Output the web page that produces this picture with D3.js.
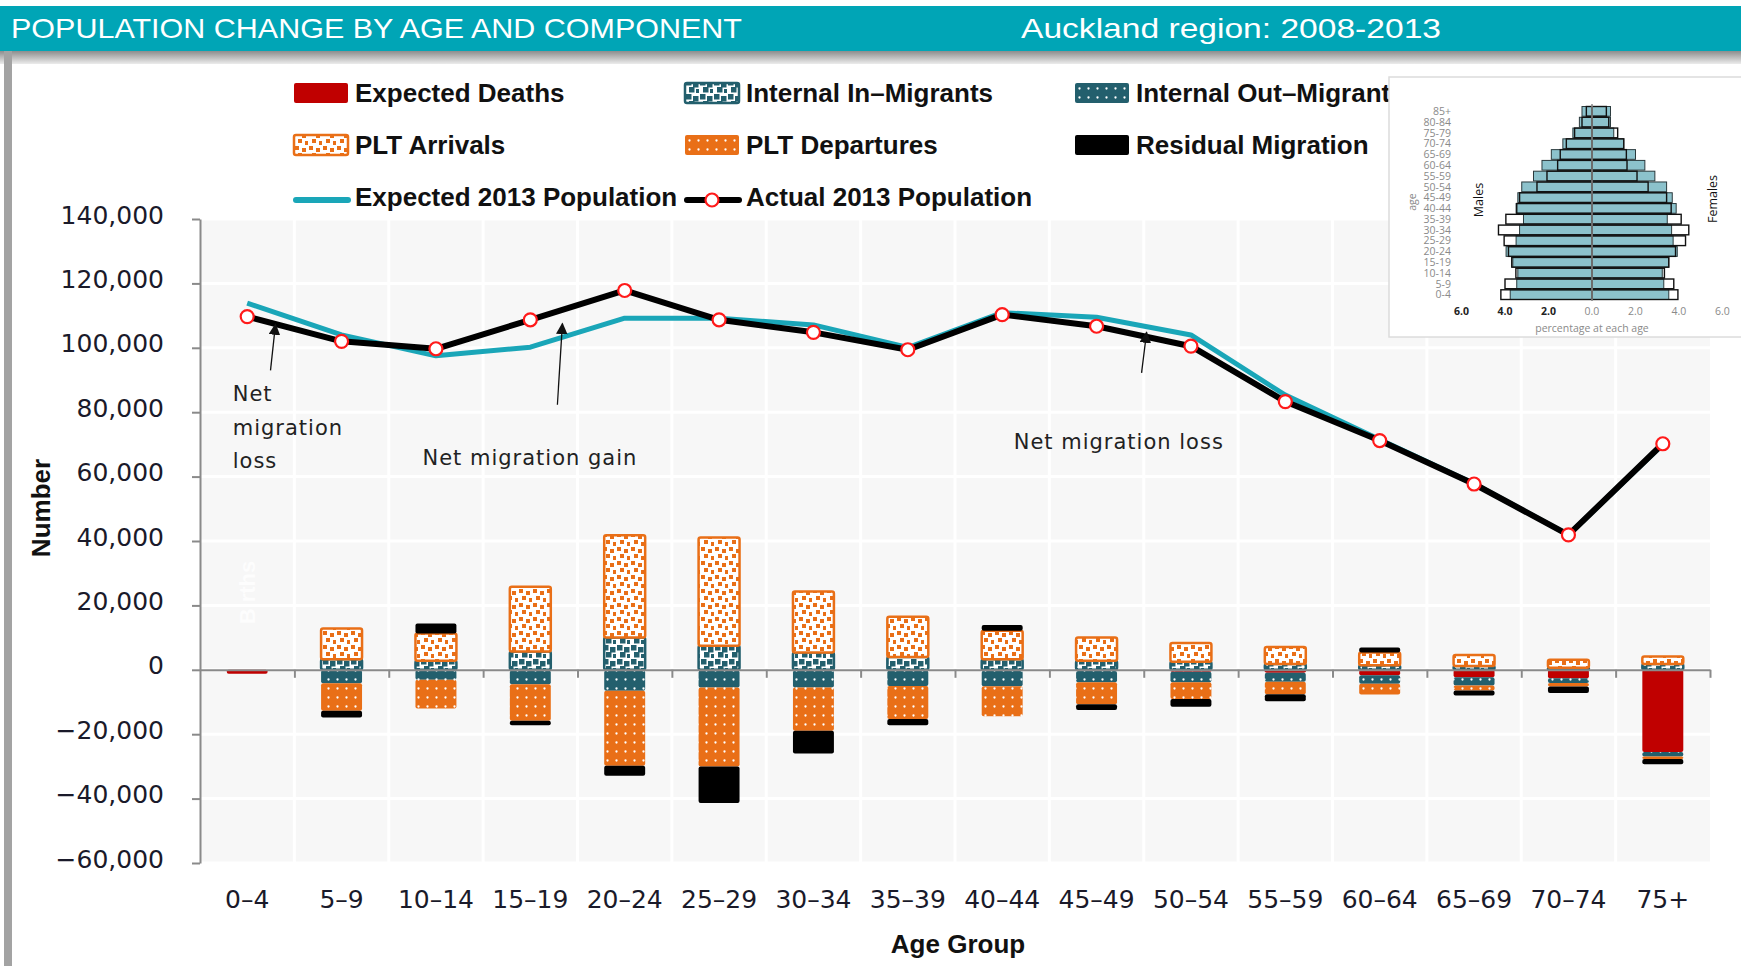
<!DOCTYPE html>
<html lang="en">
<head>
<meta charset="UTF-8">
<title>Population change by age and component</title>
<script src="https://d3js.org/d3.v7.min.js"></script>
<style>
  html, body { margin: 0; padding: 0; background: #fff; }
  svg { display: block; }
  .axis text { font-family: "DejaVu Sans", Verdana, sans-serif; font-size: 25px; fill: #1a1a2a; }
  .axis path, .axis line { stroke: #8a8a8a; stroke-width: 2px; }
  .legend text { font-family: "Liberation Sans", Arial, sans-serif; font-weight: bold; font-size: 26px; fill: #111; }
  .note { font-family: "DejaVu Sans", Verdana, sans-serif; font-size: 21px; letter-spacing: 1px; fill: #222; }
  .inset text { font-family: "Open Sans", "Liberation Sans", sans-serif; font-size: 10.5px; fill: #8a8a8a; }
</style>
</head>
<body>
<svg id="chart" width="1741" height="966"></svg>
<script>
// ---- data ----
const ageGroups = ["0–4","5–9","10–14","15–19","20–24","25–29","30–34","35–39",
                   "40–44","45–49","50–54","55–59","60–64","65–69","70–74","75+"];

const expectedDeaths = [-1200,-100,-100,-200,-200,-200,-200,-200,-300,-400,-600,-900,-1700,-2300,-2600,-25500];
const internalIn     = [0,3300,2800,5700,10000,7500,5400,4000,3300,2800,2500,1800,1400,1200,600,1800];
const internalOut    = [0,-4100,-3000,-4300,-6300,-5300,-5300,-4800,-4800,-3500,-3300,-2800,-2600,-2600,-1500,-1400];
const pltArrivals    = [0,9500,8500,20100,31800,33600,18900,12500,8800,7200,5800,5300,4000,3400,2500,2300];
const pltDepartures  = [0,-8500,-8900,-11300,-23300,-24500,-13400,-10300,-9300,-6800,-5200,-3900,-3400,-1500,-1100,-800];
const residual       = [0,-2100,3100,-1400,-3100,-11400,-7100,-1900,1800,-1800,-2400,-2200,1500,-1600,-2000,-1600];

const expectedPop = [113900,104000,97500,100200,109200,109200,107100,100100,110900,109500,104000,85300,71500,57800,41900,70000];
const actualPop   = [109700,102000,99700,108700,117800,108700,104800,99400,110300,106700,100500,83300,71200,57700,41900,70200];

const yTicks = [-60000,-40000,-20000,0,20000,40000,60000,80000,100000,120000,140000];

// inset pyramid (percentage at each age)
const pyrAges = ["0-4","5-9","10-14","15-19","20-24","25-29","30-34","35-39","40-44",
                 "45-49","50-54","55-59","60-64","65-69","70-74","75-79","80-84","85+"];
const malesFilled     = [3.76,3.46,3.41,3.64,3.95,3.49,3.33,3.15,3.49,3.41,3.23,2.69,2.30,1.87,1.34,0.88,0.58,0.46];
const malesOutline    = [4.19,4.00,3.50,3.69,3.84,4.04,4.30,3.96,3.46,3.33,2.53,2.07,1.58,1.46,1.18,0.80,0.46,0.26];
const femalesFilled   = [3.53,3.30,3.23,3.53,3.92,3.73,3.66,3.46,3.87,3.69,3.43,2.89,2.43,2.00,1.46,1.00,0.85,0.85];
const femalesOutline  = [3.95,3.76,3.33,3.53,3.84,4.30,4.45,4.10,3.64,3.43,2.58,2.07,1.61,1.58,1.46,1.18,0.77,0.66];
const pyrTicks = [-6,-4,-2,0,2,4,6];

// ---- colours ----
const C = {
  banner: "#00a5b6", red: "#c00000", orange: "#e96f17", teal: "#235f6d",
  lineTeal: "#1aa6b8", black: "#000", plotBg: "#f7f7f7"
};

const svg = d3.select("#chart");
const W = 1741, H = 966;

// ---- patterns ----
const defs = svg.append("defs");
// white ground with scattered coloured squares (Excel "large confetti" look)
function confetti(id, color, size) {
  const p = defs.append("pattern").attr("id", id)
    .attr("patternUnits", "userSpaceOnUse").attr("width", 14).attr("height", 14);
  p.append("rect").attr("width", 14).attr("height", 14).attr("fill", "#fff");
  [[1,1],[8,3],[4,8],[11,10]].forEach(([a, b]) =>
    p.append("rect").attr("x", a).attr("y", b).attr("width", size).attr("height", size).attr("fill", color));
}
function dots(id, color) {
  const p = defs.append("pattern").attr("id", id)
    .attr("patternUnits", "userSpaceOnUse").attr("width", 9).attr("height", 9);
  p.append("rect").attr("width", 9).attr("height", 9).attr("fill", color);
  p.append("circle").attr("cx", 4.5).attr("cy", 4.5).attr("r", 1.15).attr("fill", "#fff");
}
confetti("pInternalIn", C.teal, 5.5);
confetti("pArrivals", C.orange, 4);
dots("pInternalOut", C.teal);
dots("pDepartures", C.orange);

const grad = defs.append("linearGradient").attr("id", "frameGrad")
  .attr("x1", 0).attr("y1", 0).attr("x2", 0).attr("y2", 1);
grad.append("stop").attr("offset", "0%").attr("stop-color", "#8d8d8d");
grad.append("stop").attr("offset", "100%").attr("stop-color", "#ececec");

defs.append("marker").attr("id", "arrowHead")
  .attr("viewBox", "0 0 10 10").attr("refX", 9).attr("refY", 5)
  .attr("markerWidth", 9).attr("markerHeight", 9).attr("orient", "auto")
  .append("path").attr("d", "M0,0 L10,5 L0,10 z").attr("fill", "#111");

// ---- frame and banner ----
svg.append("rect").attr("width", W).attr("height", H).attr("fill", "#fff");
svg.append("rect").attr("x", 0).attr("y", 6).attr("width", W).attr("height", 45).attr("fill", C.banner);
svg.append("rect").attr("x", 0).attr("y", 51).attr("width", W).attr("height", 13).attr("fill", "url(#frameGrad)");
svg.append("rect").attr("x", 4).attr("y", 51).attr("width", 8).attr("height", H - 51).attr("fill", "#a3a3a3");

svg.append("text").attr("x", 11).attr("y", 38)
  .attr("textLength", 731).attr("lengthAdjust", "spacingAndGlyphs")
  .style("font-family", "'Liberation Sans', Arial, sans-serif").style("font-size", "28px").style("fill", "#fff")
  .text("POPULATION CHANGE BY AGE AND COMPONENT");
svg.append("text").attr("x", 1021).attr("y", 38)
  .attr("textLength", 420).attr("lengthAdjust", "spacingAndGlyphs")
  .style("font-family", "'Liberation Sans', Arial, sans-serif").style("font-size", "28px").style("fill", "#fff")
  .text("Auckland region: 2008-2013");

// ---- scales ----
const plot = { left: 200, right: 1710, top: 219, bottom: 863 };
const x = d3.scaleBand().domain(ageGroups).range([plot.left, plot.right]).paddingInner(0.566).paddingOuter(0.283);
const step = x.step();
const cx = d => x(d) + x.bandwidth() / 2;
const y = d3.scaleLinear().domain([-60000, 140000]).range([plot.bottom, plot.top]);

// plot background + white grid
svg.append("rect").attr("x", plot.left).attr("y", plot.top)
  .attr("width", plot.right - plot.left).attr("height", plot.bottom - plot.top).attr("fill", C.plotBg);
const grid = svg.append("g").attr("stroke", "#fff").attr("stroke-width", 3);
grid.selectAll("line.h").data(yTicks).join("line").attr("class", "h")
  .attr("x1", plot.left).attr("x2", plot.right).attr("y1", d => y(d)).attr("y2", d => y(d));
grid.selectAll("line.v").data(d3.range(1, ageGroups.length)).join("line").attr("class", "v")
  .attr("x1", i => plot.left + i * step).attr("x2", i => plot.left + i * step)
  .attr("y1", plot.top).attr("y2", plot.bottom);

// faint "Births" label in the 0-4 column
svg.append("text").attr("transform", `translate(${cx(ageGroups[0]) + 8},${y(24000)}) rotate(-90)`)
  .attr("text-anchor", "middle").attr("opacity", 0.75)
  .style("font-family", "'Liberation Sans', Arial, sans-serif").style("font-weight", "bold")
  .style("font-size", "22px").style("fill", "#fff").text("Births");

// ---- stacked components ----
const keys = ["deaths", "internalIn", "internalOut", "arrivals", "departures", "residual"];
const table = ageGroups.map((age, i) => ({
  age, deaths: expectedDeaths[i], internalIn: internalIn[i], internalOut: internalOut[i],
  arrivals: pltArrivals[i], departures: pltDepartures[i], residual: residual[i]
}));
const fills = {
  deaths: C.red, internalIn: "url(#pInternalIn)", internalOut: "url(#pInternalOut)",
  arrivals: "url(#pArrivals)", departures: "url(#pDepartures)", residual: C.black
};
const strokes = { internalIn: C.teal, arrivals: C.orange };

const stacked = d3.stack().keys(keys).offset(d3.stackOffsetDiverging)(table);
svg.append("g").selectAll("g").data(stacked).join("g")
  .attr("fill", s => fills[s.key])
  .attr("stroke", s => strokes[s.key] || "none")
  .attr("stroke-width", 2.5)
  .selectAll("rect").data(s => s.filter(d => d[1] !== d[0])).join("rect")
  .attr("x", d => x(d.data.age))
  .attr("width", x.bandwidth())
  .attr("y", d => y(Math.max(d[0], d[1])))
  .attr("height", d => Math.abs(y(d[0]) - y(d[1])))
  .attr("rx", 2);

// ---- axes ----
svg.append("g").attr("class", "axis").attr("transform", `translate(${plot.left},0)`)
  .call(d3.axisLeft(y).tickValues(yTicks).tickFormat(d3.format(",")).tickSize(8).tickSizeOuter(0).tickPadding(28))
  .call(g => g.selectAll(".tick text").attr("y", -4));

const bounds = d3.scaleLinear().domain([0, ageGroups.length]).range([plot.left, plot.right]);
svg.append("g").attr("class", "axis").attr("transform", `translate(0,${y(0)})`)
  .call(d3.axisBottom(bounds).tickValues(d3.range(1, ageGroups.length + 1)).tickFormat("").tickSize(8).tickSizeOuter(0));

svg.append("g").attr("class", "axis").attr("transform", `translate(0,${plot.bottom})`)
  .call(d3.axisBottom(x).tickSize(0).tickPadding(27))
  .call(g => g.select(".domain").remove());

svg.append("text").attr("transform", `translate(50,508) rotate(-90)`).attr("text-anchor", "middle")
  .style("font-family", "'Liberation Sans', Arial, sans-serif").style("font-weight", "bold")
  .style("font-size", "26px").style("fill", "#111").text("Number");
svg.append("text").attr("x", 958).attr("y", 953).attr("text-anchor", "middle")
  .style("font-family", "'Liberation Sans', Arial, sans-serif").style("font-weight", "bold")
  .style("font-size", "26px").style("fill", "#111").text("Age Group");

// ---- population lines ----
const line = d3.line().x((d, i) => cx(ageGroups[i])).y(d => y(d));
svg.append("path").datum(expectedPop).attr("d", line)
  .attr("fill", "none").attr("stroke", C.lineTeal).attr("stroke-width", 5).attr("stroke-linejoin", "round");
svg.append("path").datum(actualPop).attr("d", line)
  .attr("fill", "none").attr("stroke", C.black).attr("stroke-width", 6).attr("stroke-linejoin", "round");
svg.append("g").selectAll("circle").data(actualPop).join("circle")
  .attr("cx", (d, i) => cx(ageGroups[i])).attr("cy", d => y(d)).attr("r", 6.5)
  .attr("fill", "#fff").attr("stroke", "#ff1a1a").attr("stroke-width", 2.2);

// ---- annotations ----
const arrows = [
  { at: 0, frac: 0.3, from: 93000, to: 107300 },
  { at: 3, frac: 0.34, from: 82300, to: 107500 },
  { at: 9, frac: 0.53, from: 92200, to: 104800 }
];
svg.append("g").selectAll("line").data(arrows).join("line")
  .attr("x1", d => cx(ageGroups[d.at]) + d.frac * step - 5)
  .attr("y1", d => y(d.from))
  .attr("x2", d => cx(ageGroups[d.at]) + d.frac * step)
  .attr("y2", d => y(d.to))
  .attr("stroke", "#111").attr("stroke-width", 1.3).attr("marker-end", "url(#arrowHead)");

const notes = svg.append("g");
[["Net", 83500], ["migration", 73000], ["loss", 62700]].forEach(([t, v]) =>
  notes.append("text").attr("class", "note").attr("x", x(ageGroups[0]) + 6).attr("y", y(v)).text(t));
notes.append("text").attr("class", "note").attr("x", x(ageGroups[2]) + 7).attr("y", y(63500)).text("Net migration gain");
notes.append("text").attr("class", "note").attr("x", x(ageGroups[8]) + 32).attr("y", y(68600)).text("Net migration loss");

// ---- legend ----
const legendItems = [
  { label: "Expected Deaths", fill: C.red },
  { label: "Internal In–Migrants", fill: "url(#pInternalIn)", stroke: C.teal },
  { label: "Internal Out–Migrants", fill: "url(#pInternalOut)" },
  { label: "PLT Arrivals", fill: "url(#pArrivals)", stroke: C.orange },
  { label: "PLT Departures", fill: "url(#pDepartures)" },
  { label: "Residual Migration", fill: C.black },
  { label: "Expected 2013 Population", line: C.lineTeal },
  { label: "Actual 2013 Population", line: C.black, marker: true }
];
const legCols = [294, 685, 1075], legRows = [93, 145, 197];
const leg = svg.append("g").attr("class", "legend").selectAll("g").data(legendItems).join("g")
  .attr("transform", (d, i) => `translate(${legCols[i % 3]},${legRows[Math.floor(i / 3)]})`);
leg.filter(d => !d.line).append("rect")
  .attr("x", 0).attr("y", -10).attr("width", 54).attr("height", 20).attr("rx", 2)
  .attr("fill", d => d.fill).attr("stroke", d => d.stroke || "none").attr("stroke-width", 2.5);
leg.filter(d => d.line).append("line")
  .attr("x1", 2).attr("x2", 54).attr("y1", 3).attr("y2", 3)
  .attr("stroke", d => d.line).attr("stroke-width", 6).attr("stroke-linecap", "round");
leg.filter(d => d.marker).append("circle")
  .attr("cx", 27).attr("cy", 3).attr("r", 6.5).attr("fill", "#fff").attr("stroke", "#ff1a1a").attr("stroke-width", 2.2);
leg.append("text").attr("x", 61).attr("y", 9).text(d => d.label);

// ---- inset population pyramid ----
const inset = svg.append("g").attr("class", "inset");
inset.append("rect").attr("x", 1389).attr("y", 77).attr("width", 370).attr("height", 260)
  .attr("fill", "#fff").attr("stroke", "#dcdcdc").attr("stroke-width", 1.5);

const mid = 1592;
const px = d3.scaleLinear().domain([0, 6]).range([0, 130.5]);
const py = d3.scaleBand().domain(pyrAges).range([299.5, 106.5]).paddingInner(0.1);

function pyrBars(values, side, filled) {
  inset.append("g").selectAll("rect").data(values).join("rect")
    .attr("x", v => side < 0 ? mid - px(v) : mid)
    .attr("y", (v, i) => py(pyrAges[i]))
    .attr("width", v => px(v))
    .attr("height", py.bandwidth())
    .attr("fill", filled ? "#8cc2cc" : "none")
    .attr("stroke", filled ? "#2b3a3d" : "#111")
    .attr("stroke-width", filled ? 1 : 1.4);
}
pyrBars(malesFilled, -1, true);
pyrBars(femalesFilled, 1, true);
pyrBars(malesOutline, -1, false);
pyrBars(femalesOutline, 1, false);

inset.append("line").attr("x1", mid).attr("x2", mid).attr("y1", 104).attr("y2", 301)
  .attr("stroke", "#8a8a8a").attr("stroke-width", 1.5);

inset.append("g").selectAll("text").data(pyrAges).join("text")
  .attr("x", 1451).attr("y", d => py(d) + py.bandwidth() / 2).attr("dy", "0.35em")
  .attr("text-anchor", "end").text(d => d);

inset.append("g").selectAll("text").data(pyrTicks).join("text")
  .attr("x", d => mid + Math.sign(d) * px(Math.abs(d))).attr("y", 315).attr("text-anchor", "middle")
  .style("fill", d => d < 0 ? "#222" : "#8a8a8a").style("font-weight", d => d < 0 ? "bold" : "normal")
  .text(d => Math.abs(d).toFixed(1));

inset.append("text").attr("x", mid).attr("y", 332).attr("text-anchor", "middle").text("percentage at each age");
inset.append("text").attr("transform", "translate(1416,202) rotate(-90)").attr("text-anchor", "middle").text("age");
inset.append("text").attr("transform", "translate(1483,200) rotate(-90)").attr("text-anchor", "middle")
  .style("font-size", "12.5px").style("fill", "#111").text("Males");
inset.append("text").attr("transform", "translate(1717,199) rotate(-90)").attr("text-anchor", "middle")
  .style("font-size", "12.5px").style("fill", "#111").text("Females");
</script>
</body>
</html>
